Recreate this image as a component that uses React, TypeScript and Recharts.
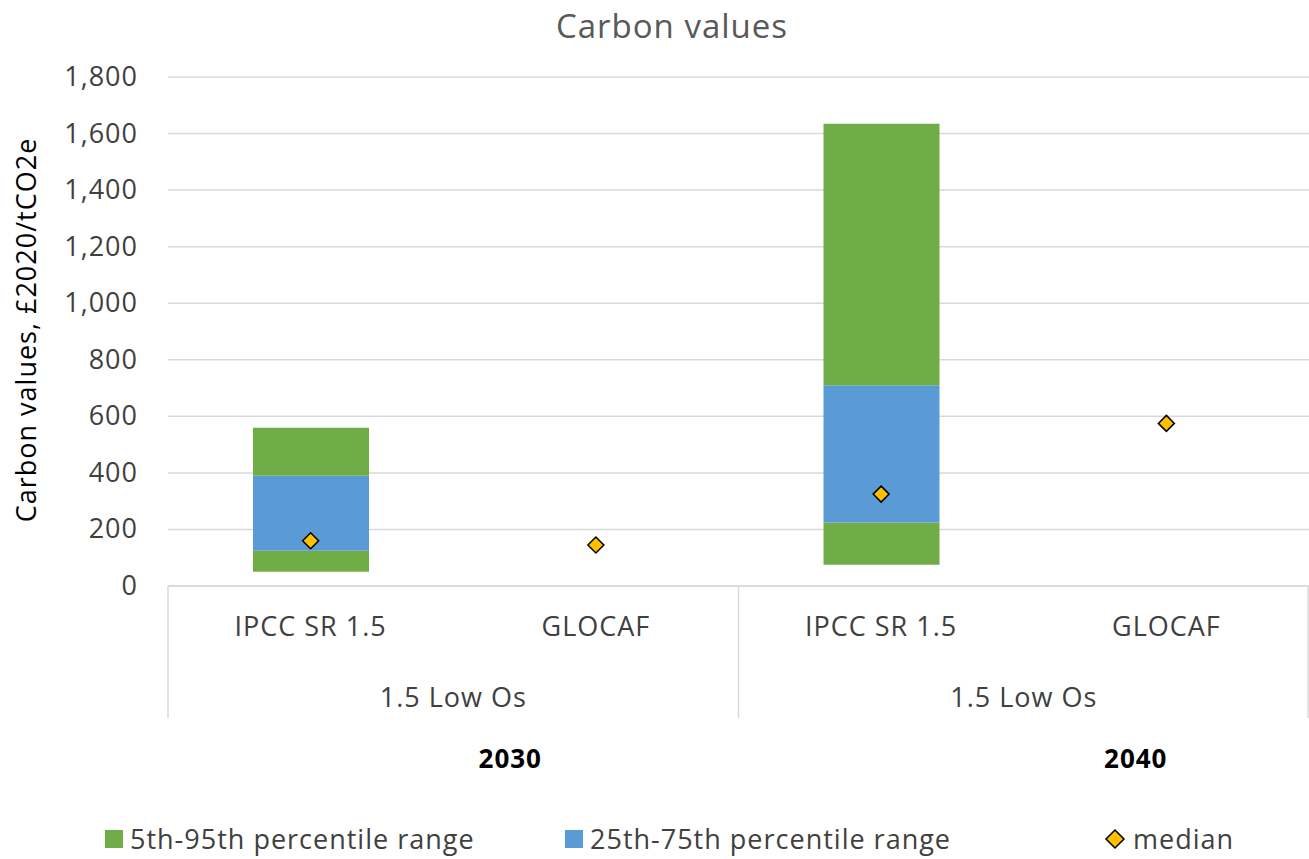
import React from "react";
import { ComposedChart, Bar, Scatter, XAxis, YAxis, CartesianGrid } from "recharts";

const categories = ["IPCC SR 1.5", "GLOCAF", "IPCC SR 1.5", "GLOCAF"];
const scenarios = ["1.5 Low Os", "1.5 Low Os"];
const years = ["2030", "2040"];
const p5: (number | null)[] = [50, null, 75, null];
const p25: (number | null)[] = [125, null, 225, null];
const p75: (number | null)[] = [390, null, 710, null];
const p95: (number | null)[] = [560, null, 1635, null];
const median = [160, 145, 325, 575];
const yTicks = [0, 200, 400, 600, 800, 1000, 1200, 1400, 1600, 1800];

const data = categories.map((c, i) => ({
  key: i,
  name: c,
  base: p5[i],
  low: p5[i] != null ? (p25[i] as number) - (p5[i] as number) : null,
  mid: p25[i] != null ? (p75[i] as number) - (p25[i] as number) : null,
  high: p75[i] != null ? (p95[i] as number) - (p75[i] as number) : null,
  median: median[i],
}));

const GREEN = "#70ad47";
const BLUE = "#5b9bd5";
const FONT = "'Open Sans', sans-serif";
const TXT = "#404040";
const FS = 27;
const LS = 1;

const Diamond = (props: any) => {
  const { cx, cy } = props;
  if (cx == null || cy == null) return null;
  const r = 8;
  return <path d={`M${cx},${cy - r}L${cx + r},${cy}L${cx},${cy + r}L${cx - r},${cy}Z`} fill="#ffc000" stroke="#000" strokeWidth={1.5} />;
};

const Tick = (props: any) => {
  const { x, y, payload } = props;
  return (
    <text x={x} y={y + 42} textAnchor="middle" fontSize={FS} letterSpacing={LS} fill={TXT} fontFamily={FONT}>
      {categories[payload.value]}
    </text>
  );
};

const YTick = (props: any) => {
  const { x, y, payload } = props;
  return (
    <text x={x - 22} y={y + 9} textAnchor="end" fontSize={FS} letterSpacing={LS} fill={TXT} fontFamily={FONT}>
      {Number(payload.value).toLocaleString("en-US")}
    </text>
  );
};

const Overlay = () => {
  const left = 168;
  const w = 1141;
  const bottom = 586;
  const half = w / 2;
  return (
    <svg width={1309} height={859} style={{ position: "absolute", left: 0, top: 0, pointerEvents: "none" }} fontFamily={FONT} letterSpacing={LS}>
      {[0, 1, 2].map((i) => (
        <line key={i} x1={left + i * half - (i === 2 ? 1 : 0)} x2={left + i * half - (i === 2 ? 1 : 0)} y1={bottom} y2={bottom + 132} stroke="#d9d9d9" strokeWidth={1.5} />
      ))}
      {scenarios.map((s, i) => (
        <text key={i} x={left + half * i + half / 2} y={bottom + 121} textAnchor="middle" fontSize={FS} fill={TXT}>{s}</text>
      ))}
      {years.map((s, i) => (
        <text key={i} x={left + half * i + half / 2 + (i === 0 ? 57 : 112)} y={bottom + 182} textAnchor="middle" fontSize={26} fontWeight="bold" fill="#000">{s}</text>
      ))}
      <text x={672} y={38} textAnchor="middle" fontSize={33} fill="#595959">Carbon values</text>
      <text transform="translate(36,330) rotate(-90)" textAnchor="middle" fontSize={FS} fill="#000">Carbon values, £2020/tCO2e</text>
      <g fontSize={FS} fill={TXT}>
        <rect x={105} y={830} width={18} height={18} fill={GREEN} />
        <text x={130} y={849}>5th-95th percentile range</text>
        <rect x={565} y={830} width={18} height={18} fill={BLUE} />
        <text x={590} y={849}>25th-75th percentile range</text>
        <path d="M1115,830L1124,839L1115,848L1106,839Z" fill="#ffc000" stroke="#000" strokeWidth={1.5} />
        <text x={1133} y={849}>median</text>
      </g>
    </svg>
  );
};

export default function App() {
  return (
    <div style={{ position: "absolute", left: 0, top: 0, width: 1309, height: 859, background: "#fff" }}>
      <ComposedChart width={1309} height={859} data={data} margin={{ top: 77, right: 0, left: 68, bottom: 233 }}>
        <CartesianGrid vertical={false} stroke="#d9d9d9" strokeWidth={1.5} />
        <XAxis dataKey="key" type="category" tick={<Tick />} tickLine={false} axisLine={{ stroke: "#d9d9d9", strokeWidth: 1.5 }} interval={0} height={40} />
        <YAxis domain={[0, 1800]} ticks={yTicks} width={100} axisLine={false} tickLine={false} tick={<YTick />} />
        <Bar dataKey="base" stackId="a" fill="transparent" barSize={116} isAnimationActive={false} />
        <Bar dataKey="low" stackId="a" fill={GREEN} barSize={116} isAnimationActive={false} />
        <Bar dataKey="mid" stackId="a" fill={BLUE} barSize={116} isAnimationActive={false} />
        <Bar dataKey="high" stackId="a" fill={GREEN} barSize={116} isAnimationActive={false} />
        <Scatter dataKey="median" shape={<Diamond />} isAnimationActive={false} />
      </ComposedChart>
      <Overlay />
    </div>
  );
}
